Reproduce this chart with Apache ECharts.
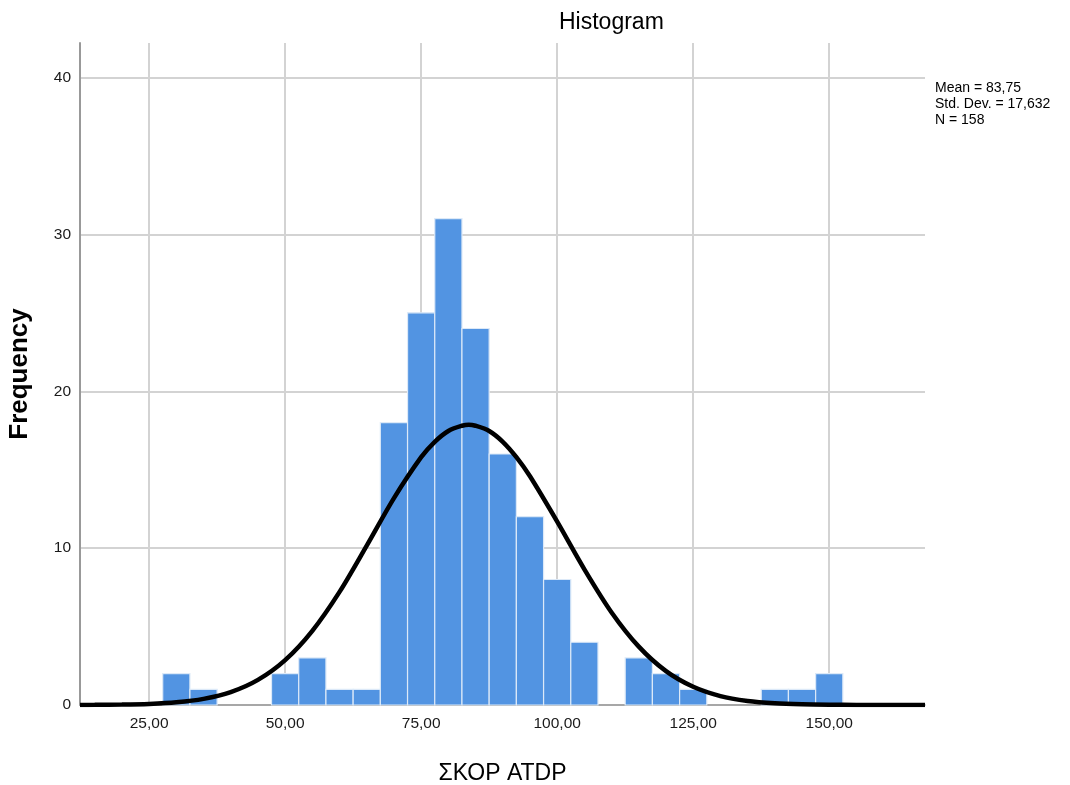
<!DOCTYPE html>
<html>
<head>
<meta charset="utf-8">
<script src="https://cdn.jsdelivr.net/npm/echarts@6/dist/echarts.min.js"></script>
<style>
  html, body { margin: 0; padding: 0; background: #fff; }
  #chart { width: 1070px; height: 785px; }
</style>
</head>
<body>
<div id="chart"></div>
<script>
// histogram bins (centre of each 5-wide bin) and counts
const binWidth = 5;
const binCenters = [30, 35, 50, 55, 60, 65, 70, 75, 80, 85, 90, 95, 100, 105, 115, 120, 125, 140, 145, 150];
const counts     = [2, 1, 2, 3, 1, 1, 18, 25, 31, 24, 16, 12, 8, 4, 3, 2, 1, 1, 1, 2];

// normal curve
const curveX = [12.3, 15, 20, 25, 30, 35, 40, 45, 50, 55, 60, 65, 70, 75, 77.5, 80, 82.5, 83.75, 85, 87.5, 90, 92.5, 95, 100, 105, 110, 115, 120, 125, 130, 135, 140, 145, 150, 155, 160, 165, 167.6];
const curveY = [0.005, 0.009, 0.026, 0.07, 0.17, 0.39, 0.82, 1.6, 2.86, 4.73, 7.21, 10.16, 13.19, 15.8, 16.78, 17.47, 17.8, 17.87, 17.8, 17.47, 16.78, 15.8, 14.58, 11.69, 8.65, 5.9, 3.72, 2.16, 1.16, 0.57, 0.26, 0.11, 0.043, 0.015, 0.005, 0.002, 0.0004, 0.0002];

const xTicks = [25, 50, 75, 100, 125, 150];
const statsLines = ['Mean = 83,75', 'Std. Dev. = 17,632', 'N = 158'];

const font = '"Liberation Sans", Arial, sans-serif';
const chart = echarts.init(document.getElementById('chart'));

chart.setOption({
  animation: false,
  textStyle: { fontFamily: font },
  title: {
    text: 'Histogram',
    left: 554, top: 6,
    textStyle: { fontSize: 23, fontWeight: 'normal', color: '#000', fontFamily: font }
  },
  graphic: [{
    type: 'text',
    left: 935, top: 80,
    style: {
      text: statsLines.join('\n'),
      font: '14px ' + font,
      lineHeight: 16,
      fill: '#000'
    }
  }],
  grid: { left: 80, right: 145, top: 43, bottom: 80, outerBoundsMode: 'none' },
  xAxis: {
    type: 'value',
    min: 12.3, max: 167.6,
    name: 'ΣΚΟΡ ATDP',
    nameLocation: 'middle',
    nameGap: 57,
    nameTextStyle: { fontSize: 23, color: '#000', fontFamily: font },
    axisLine: { show: true, onZero: false, lineStyle: { color: '#999', width: 1.5 } },
    axisTick: { show: false, customValues: xTicks },
    axisLabel: {
      customValues: xTicks,
      color: '#1a1a1a', fontSize: 15.5, margin: 11,
      formatter: v => v.toFixed(2).replace('.', ',')
    },
    splitLine: { show: true, lineStyle: { color: '#d3d3d3', width: 2 } }
  },
  yAxis: {
    type: 'value',
    min: 0, max: 42.2, interval: 10,
    name: 'Frequency',
    nameLocation: 'middle',
    nameGap: 47,
    nameRotate: 90,
    nameTextStyle: { fontSize: 26, fontWeight: 'bold', color: '#000', fontFamily: font },
    axisLine: { show: true, lineStyle: { color: '#999', width: 2 } },
    axisTick: { show: false },
    axisLabel: { color: '#1a1a1a', fontSize: 15.5, margin: 9, showMaxLabel: false },
    splitLine: { show: true, showMaxLine: false, lineStyle: { color: '#d3d3d3', width: 2 } }
  },
  series: [
    {
      type: 'custom',
      data: binCenters.map((c, i) => [c, counts[i]]),
      renderItem(params, api) {
        const c = api.value(0);
        const p0 = api.coord([c - binWidth / 2, api.value(1)]);
        const p1 = api.coord([c + binWidth / 2, 0]);
        return {
          type: 'rect',
          shape: { x: p0[0], y: p0[1], width: p1[0] - p0[0], height: p1[1] - p0[1] },
          style: { fill: '#5294e2', stroke: '#dce9f8', lineWidth: 1.2 }
        };
      },
      z: 2
    },
    {
      type: 'line',
      data: curveX.map((x, i) => [x, curveY[i]]),
      smooth: 0.3,
      showSymbol: false,
      lineStyle: { color: '#000', width: 4.5 },
      z: 3
    }
  ]
});
</script>
</body>
</html>
